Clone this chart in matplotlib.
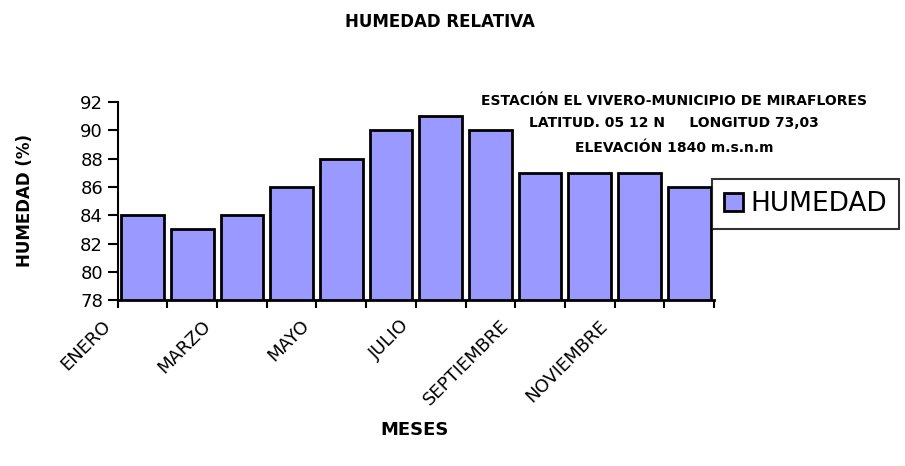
import numpy as np
import matplotlib.pyplot as plt
import matplotlib.transforms as mtransforms

meses = ['ENERO', 'FEBRERO', 'MARZO', 'ABRIL', 'MAYO', 'JUNIO', 'JULIO',
         'AGOSTO', 'SEPTIEMBRE', 'OCTUBRE', 'NOVIEMBRE', 'DICIEMBRE']
humedad = [84, 83, 84, 86, 88, 90, 91, 90, 87, 87, 87, 86]
y_ticks = [78, 80, 82, 84, 86, 88, 90, 92]
nota = ['ESTACIÓN EL VIVERO-MUNICIPIO DE MIRAFLORES',
        'LATITUD. 05 12 N     LONGITUD 73,03',
        'ELEVACIÓN 1840 m.s.n.m']

fig = plt.figure(figsize=(9.05, 4.66), dpi=100)
ax = fig.add_axes([0.130, 0.356, 0.659, 0.425])

x = np.arange(len(meses))
bars = ax.bar(x, humedad, width=0.86, bottom=0, color='#9999ff',
              edgecolor='black', linewidth=2, label='HUMEDAD')

ax.set_xlim(-0.5, len(meses) - 0.5)
ax.set_ylim(78, 92)
ax.set_yticks(y_ticks)
ax.tick_params(axis='y', labelsize=13, length=7, width=1.5, direction='out')

# tick marks at category boundaries, labels every other month
ax.set_xticks(np.arange(-0.5, len(meses)))
ax.set_xticklabels([])
ax.tick_params(axis='x', which='major', length=6, width=1.5, direction='out')
ax.set_xticks(x[::2], minor=True)
ax.set_xticklabels(meses[::2], minor=True, rotation=45, ha='right',
                   fontsize=13)
ax.tick_params(axis='x', which='minor', length=0, pad=12)
offset = mtransforms.ScaledTranslation(-0.28, 0, fig.dpi_scale_trans)
for lbl in ax.get_xticklabels(minor=True):
    lbl.set_transform(lbl.get_transform() + offset)

for side in ['top', 'right']:
    ax.spines[side].set_visible(False)
ax.spines['left'].set_linewidth(1.5)
ax.spines['bottom'].set_linewidth(2)

fig.text(0.486, 0.953, 'HUMEDAD RELATIVA', ha='center', va='center',
         fontsize=12, fontweight='bold')
fig.text(0.458, 0.077, 'MESES', ha='center', va='center',
         fontsize=13, fontweight='bold')
fig.text(0.028, 0.57, 'HUMEDAD (%)', ha='center', va='center',
         rotation=90, fontsize=12, fontweight='bold')

for t, yy in zip(nota, [0.783, 0.735, 0.683]):
    fig.text(0.745, yy, t, ha='center', va='center', fontsize=10,
             fontweight='bold')

leg = fig.legend(handles=[bars], labels=['HUMEDAD'], loc='upper left',
                 bbox_to_anchor=(0.787, 0.615), fontsize=19, frameon=True,
                 fancybox=False, handlelength=0.7, handleheight=0.7,
                 handletextpad=0.3, borderpad=0.45, borderaxespad=0)
leg.get_frame().set_edgecolor('black')
leg.get_frame().set_linewidth(1.5)

fig.savefig('out.png', dpi=100)
